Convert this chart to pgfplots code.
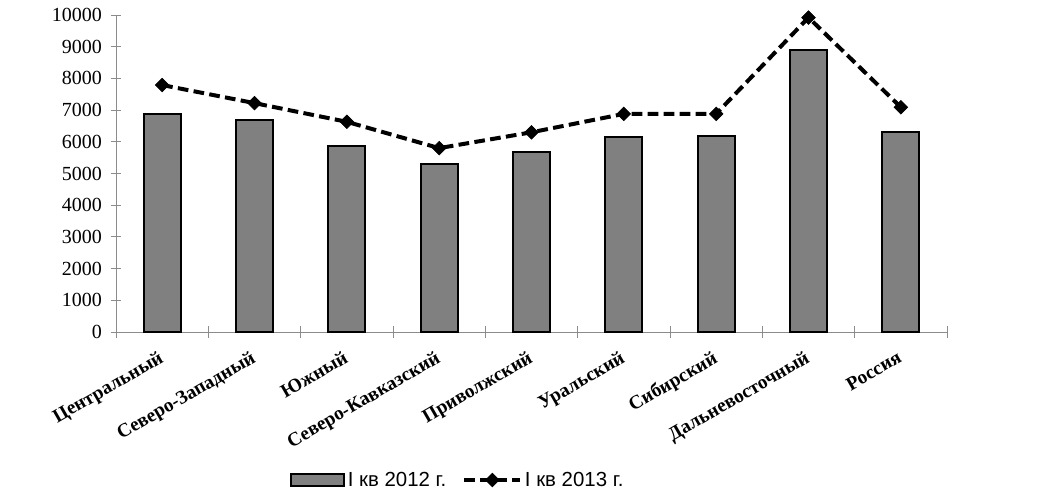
\documentclass[border=0pt]{standalone}
\usepackage{pgfplots}
\pgfplotsset{compat=1.18}
\usepackage{fontspec}
\setmainfont{Liberation Serif}
\newfontfamily\arialfont{Liberation Sans}
\begin{document}
\begin{tikzpicture}
\path[use as bounding box] (0,0) rectangle (789pt,371.25pt);
\begin{axis}[
  at={(87pt,122.25pt)}, anchor=south west,
  scale only axis, width=623.25pt, height=237.75pt,
  xmin=-0.5, xmax=8.5, ymin=0, ymax=10000,
  axis x line*=bottom, axis y line*=left,
  axis line style={draw=gray!90, line width=0.7pt},
  ytick={0,1000,...,10000},
  scaled y ticks=false,
  /pgf/number format/1000 sep={},
  /pgf/number format/assume math mode=true,
  yticklabel style={font=\fontsize{15}{17}\selectfont, xshift=-3pt},
  xtick={0,...,8},
  xticklabels={Центральный,Северо-Западный,Южный,Северо-Кавказский,Приволжский,Уральский,Сибирский,Дальневосточный,Россия},
  xticklabel style={yshift=-8pt, xshift=-3pt, rotate=30, anchor=north east, font=\bfseries\fontsize{14.5}{16}\selectfont, inner sep=1pt},
  major x tick style={draw=none},
  minor xtick={-0.5,0.5,...,8.5},
  tick align=center,
  major tick length=8pt, minor tick length=9pt,
  tick style={draw=gray!90, line width=0.7pt},
  legend columns=2,
  legend style={draw=none, at={(axis description cs:0.4116,-0.467)}, anchor=center,
    font=\arialfont\fontsize{15.3}{17}\selectfont,
    /tikz/every even column/.append style={column sep=10pt}},
  clip=false,
]
\addplot[ybar, bar width=0.4, fill=gray, draw=black, line width=1.6pt,
  legend image code/.code={\draw[fill=gray, draw=black, line width=1.4pt] (0pt,-4.3pt) rectangle (40pt,4.3pt);}]
  coordinates {(0,6870) (1,6700) (2,5880) (3,5300) (4,5680) (5,6150) (6,6170) (7,8900) (8,6300)};
\addlegendentry{I кв 2012 г.}
\addplot[black, line width=3pt, dash pattern=on 8pt off 4pt, mark=square*, mark size=3.6pt, mark options={rotate=45, solid, line width=0.5pt},
  legend image code/.code={\draw[mark repeat=2,mark phase=2] plot coordinates {(0pt,0pt) (21pt,0pt) (42pt,0pt)};}]
  coordinates {(0,7790) (1,7220) (2,6630) (3,5800) (4,6300) (5,6880) (6,6880) (7,9920) (8,7090)};
\addlegendentry{I кв 2013 г.}
\end{axis}
\end{tikzpicture}
\end{document}
